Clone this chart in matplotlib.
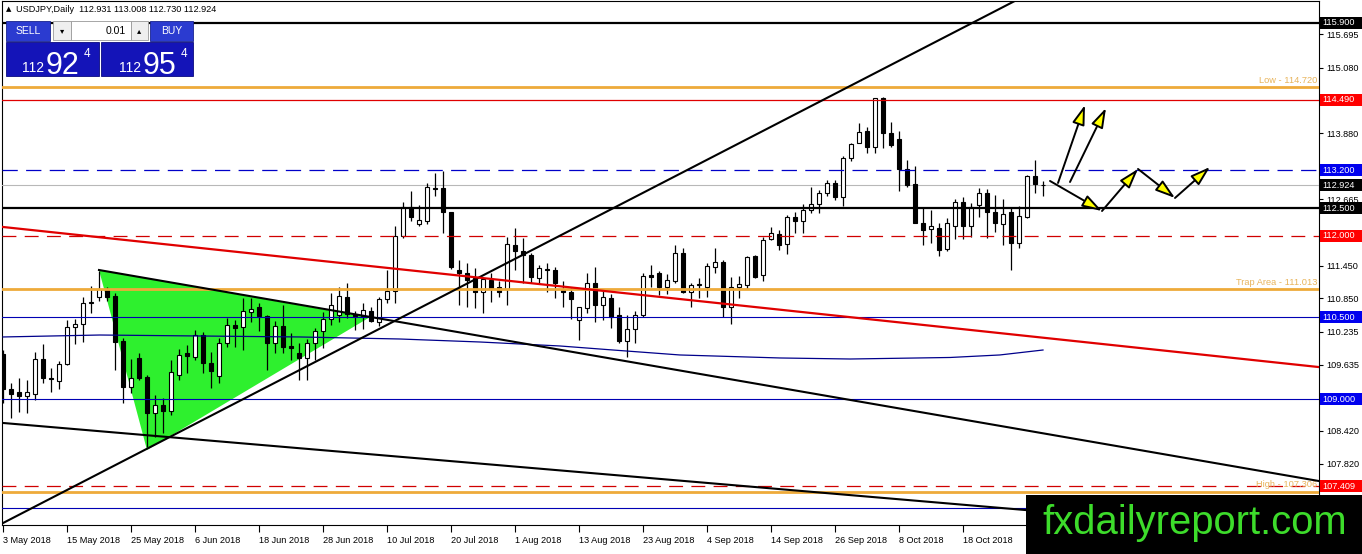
import matplotlib
matplotlib.use("Agg")
import matplotlib.pyplot as plt
import matplotlib.transforms as mtrans
from matplotlib.patches import Rectangle, Polygon
from matplotlib import font_manager
import numpy as np

plt.rcParams['font.family'] = ['Liberation Sans', 'DejaVu Sans']
plt.rcParams['lines.scale_dashes'] = False
_names = {f.name for f in font_manager.fontManager.ttflist}
NARROW = 'Liberation Sans Narrow' if 'Liberation Sans Narrow' in _names else 'Liberation Sans'

# ---------------- DATA ----------------
symbol = "USDJPY,Daily"
header_ohlc = "112.931 113.008 112.730 112.924"
sell_price = ("112", "92", "4")
buy_price = ("112", "95", "4")
lot = "0.01"

tick_pos = [0, 8, 16, 24, 32, 40, 48, 56, 64, 72, 80, 88, 96, 104, 112, 120]
tick_labels = ["3 May 2018", "15 May 2018", "25 May 2018", "6 Jun 2018", "18 Jun 2018",
               "28 Jun 2018", "10 Jul 2018", "20 Jul 2018", "1 Aug 2018", "13 Aug 2018",
               "23 Aug 2018", "4 Sep 2018", "14 Sep 2018", "26 Sep 2018", "8 Oct 2018",
               "18 Oct 2018"]
price_ticks = [115.695, 115.080, 114.480, 113.880, 113.265, 112.665, 112.050, 111.450,
               110.850, 110.235, 109.635, 109.020, 108.420, 107.820, 107.205]
# labels hidden behind price badges / watermark in the reference are left blank
price_tick_labels = ["115.695", "115.080", "", "113.880", "", "112.665", "", "111.450",
                     "110.850", "110.235", "109.635", "", "108.420", "107.820", ""]

opens = [109.83, 109.18, 109.13, 109.06, 109.09, 109.74, 109.39, 109.33, 109.65, 110.33,
         110.38, 110.77, 110.88, 111.02, 110.90, 110.07, 109.23, 109.76, 109.41, 108.75,
         108.90, 108.79, 109.44, 109.84, 109.78, 110.18, 109.67, 109.42, 110.03, 110.36,
         110.33, 110.60, 110.69, 110.53, 110.03, 110.34, 109.98, 109.84, 109.76, 110.03,
         110.25, 110.47, 110.55, 110.88, 110.57, 110.52, 110.62, 110.42, 110.84, 110.99,
         111.99, 112.52, 112.21, 112.26, 112.87, 112.87, 112.44, 111.37, 111.32, 111.22,
         110.97, 111.19, 111.06, 111.03, 111.83, 111.72, 111.65, 111.22, 111.39, 111.37,
         111.00, 110.97, 110.45, 110.67, 111.13, 110.73, 110.85, 110.55, 110.06, 110.28,
         110.55, 111.28, 111.31, 111.06, 111.17, 111.68, 110.97, 111.10, 111.05, 111.43,
         111.52, 110.70, 111.05, 111.10, 111.63, 111.28, 111.93, 112.03, 111.85, 112.35,
         112.26, 112.47, 112.58, 112.78, 112.97, 112.70, 113.42, 113.70, 113.91, 113.63,
         114.52, 113.89, 113.78, 113.22, 112.94, 112.24, 112.12, 112.14, 111.75, 112.17,
         112.62, 112.17, 112.57, 112.79, 112.43, 112.22, 112.43, 111.86, 112.35, 113.10,
         112.931]
highs = [109.90, 109.30, 109.39, 109.35, 109.87, 110.01, 109.57, 109.70, 110.45, 110.47,
         110.88, 111.08, 111.35, 111.05, 110.95, 110.12, 109.74, 109.85, 109.45, 109.08,
         109.02, 109.72, 109.92, 110.00, 110.27, 110.24, 109.87, 110.12, 110.49, 110.45,
         110.86, 110.86, 110.76, 110.55, 110.44, 110.73, 110.21, 110.03, 110.10, 110.30,
         110.60, 110.95, 111.06, 111.14, 110.62, 110.76, 110.69, 110.88, 111.37, 112.18,
         112.62, 112.81, 112.56, 112.96, 113.14, 113.18, 112.44, 111.55, 111.50, 111.40,
         111.25, 111.31, 111.16, 111.97, 112.14, 111.95, 111.69, 111.46, 111.49, 111.43,
         111.16, 111.06, 110.70, 111.31, 111.42, 111.00, 110.93, 110.70, 110.55, 110.61,
         111.31, 111.46, 111.36, 111.30, 111.83, 111.77, 111.13, 111.22, 111.49, 111.77,
         111.55, 111.25, 111.26, 111.63, 111.64, 111.97, 112.15, 112.10, 112.38, 112.44,
         112.58, 112.89, 112.83, 113.02, 113.02, 113.46, 113.70, 114.06, 114.00, 114.52,
         114.54, 114.09, 113.91, 113.39, 113.28, 112.53, 112.47, 112.23, 112.32, 112.68,
         112.71, 112.60, 112.87, 112.85, 112.74, 112.67, 112.51, 112.54, 113.11, 113.39,
         113.008]
lows = [108.93, 108.66, 108.77, 108.75, 108.98, 109.30, 109.13, 109.18, 109.63, 110.01,
        110.05, 110.58, 110.80, 110.80, 109.54, 108.93, 109.11, 109.35, 108.13, 108.31,
        108.38, 108.71, 109.35, 109.48, 109.72, 109.48, 109.21, 109.30, 109.96, 109.95,
        109.90, 110.42, 110.25, 109.54, 109.85, 109.85, 109.72, 109.35, 109.35, 109.72,
        109.94, 110.36, 110.42, 110.49, 110.27, 110.29, 110.42, 110.34, 110.77, 110.76,
        111.95, 112.26, 112.18, 112.21, 112.73, 112.04, 111.39, 110.73, 110.70, 110.67,
        110.58, 110.79, 110.88, 110.73, 111.37, 111.13, 111.13, 111.13, 110.97, 110.85,
        110.70, 110.48, 110.09, 110.58, 110.42, 110.45, 110.30, 110.03, 109.78, 110.03,
        110.51, 111.06, 110.91, 110.93, 111.13, 110.94, 110.70, 110.85, 110.88, 111.31,
        110.51, 110.38, 110.85, 111.03, 111.22, 111.16, 111.92, 111.73, 111.66, 112.04,
        112.04, 112.42, 112.41, 112.72, 112.65, 112.54, 113.37, 113.69, 113.52, 113.51,
        113.61, 113.63, 112.81, 112.89, 112.24, 111.82, 111.87, 111.62, 111.71, 111.93,
        111.93, 111.98, 112.35, 111.95, 112.07, 111.83, 111.37, 111.77, 112.32, 112.79,
        112.730]
closes = [109.19, 109.09, 109.06, 109.13, 109.74, 109.39, 109.37, 109.65, 110.33, 110.38,
          110.77, 110.78, 111.02, 110.88, 110.05, 109.23, 109.39, 109.39, 108.75, 108.90,
          108.79, 109.50, 109.81, 109.80, 110.18, 109.67, 109.52, 110.03, 110.36, 110.31,
          110.62, 110.66, 110.53, 110.03, 110.34, 109.96, 109.94, 109.76, 110.03, 110.25,
          110.47, 110.73, 110.90, 110.57, 110.52, 110.64, 110.44, 110.84, 110.98, 111.99,
          112.52, 112.35, 112.29, 112.90, 112.86, 112.44, 111.43, 111.32, 111.19, 110.97,
          111.20, 111.03, 110.97, 111.84, 111.71, 111.65, 111.25, 111.40, 111.37, 111.13,
          110.97, 110.83, 110.69, 111.13, 110.73, 110.88, 110.50, 110.06, 110.28, 110.55,
          111.26, 111.25, 111.06, 111.19, 111.68, 110.97, 111.10, 111.11, 111.44, 111.52,
          110.70, 111.06, 111.11, 111.61, 111.25, 111.92, 112.05, 111.82, 112.35, 112.26,
          112.47, 112.58, 112.78, 112.97, 112.70, 113.42, 113.68, 113.90, 113.63, 114.52,
          113.89, 113.67, 113.22, 112.93, 112.24, 112.10, 112.17, 111.74, 112.24, 112.62,
          112.17, 112.53, 112.79, 112.43, 112.24, 112.39, 111.86, 112.36, 113.10, 112.94,
          112.924]

ma_x = [0, 12.1, 24.6, 37.1, 49.6, 59.6, 69.6, 76.25, 84.6, 97.1, 105.9, 118.4, 124.6, 130]
ma_y = [110.142, 110.178, 110.160, 110.142, 110.105, 110.050, 109.977, 109.903, 109.812,
        109.757, 109.738, 109.766, 109.812, 109.903]

levels_black = [115.900, 112.500]
levels_red = [114.490]
levels_red_dashed = [112.000, 107.409]
levels_blue_dashed = [113.200]
levels_blue = [110.500, 109.000, 107.000]
levels_orange = [114.720, 111.013, 107.306]
orange_labels = ["Low - 114.720", "Trap Area - 111.013", "High - 107.306"]
last_price = 112.924

badges_black = [115.900, 112.924, 112.500]
badges_red = [114.490, 112.000, 107.409]
badges_blue = [113.200, 110.500, 109.000]

up_trend_x, up_trend_y = [0, 130], [106.73, 116.57]
down_trend_x, down_trend_y = [12, 164.5], [111.37, 107.50]
low_trend_x, low_trend_y = [0, 164.5], [108.565, 106.51]
red_trend_x, red_trend_y = [0, 164.5], [112.159, 109.59]
triangle_x, triangle_y = [12, 18, 45.8], [111.37, 108.07, 110.50]

zigzag_x = [130.875, 137.375, 141.875, 146.5, 150.875]
zigzag_y = [113.003, 112.452, 113.223, 112.691, 113.259]
up_arrows = [((131.875, 112.966), (135.25, 114.396)),
             ((133.375, 112.984), (137.875, 114.341))]

watermark = "fxdailyreport.com"

# ---------------- FIGURE ----------------
W, H = 1362, 554
fig = plt.figure(figsize=(W / 100, H / 100), dpi=100)
fig.patch.set_facecolor('white')
ax = fig.add_axes([2 / W, 1 - 525 / H, (1319 - 2) / W, (525 - 1) / H])
ax.set_xlim(-0.125, 164.5)
ax.set_ylim(106.694, 116.303)
ax.set_facecolor('white')
for s in ax.spines.values():
    s.set_color('black')
    s.set_linewidth(0.8)

# triangle (background)
ax.add_patch(Polygon(list(zip(triangle_x, triangle_y)), closed=True, fc='#2ef02e',
                     ec='none', zorder=1))

# candles
x = np.arange(len(opens))
o, h, l, c = map(np.array, (opens, highs, lows, closes))
ax.vlines(x, l, h, color='black', lw=0.9, zorder=4)
bull = c >= o
bot = np.minimum(o, c)
hgt = np.maximum(np.abs(c - o), 0.003)
ax.bar(x[bull], hgt[bull], bottom=bot[bull], width=0.56, color='white',
       edgecolor='black', linewidth=0.8, zorder=5)
ax.bar(x[~bull], hgt[~bull], bottom=bot[~bull], width=0.56, color='black',
       edgecolor='black', linewidth=0.8, zorder=5)

# moving average
ax.plot(ma_x, ma_y, color='#00008b', lw=0.9, zorder=6)

# horizontal levels
for p in levels_black:
    ax.axhline(p, color='black', lw=1.6, zorder=6)
for p in levels_red:
    ax.axhline(p, color='#e00000', lw=0.9, zorder=6)
for p in levels_red_dashed:
    ax.axhline(p, color='#d00000', lw=0.9, ls=(0, (10, 6)), zorder=6)
for p in levels_blue_dashed:
    ax.axhline(p, color='#0000c8', lw=0.9, ls=(0, (11, 6)), zorder=6)
for p in levels_blue:
    ax.axhline(p, color='#0000b4', lw=0.8, zorder=6)
for p in levels_orange:
    ax.axhline(p, color='#eeaa3a', lw=2.0, zorder=6)
ax.axhline(last_price, color='#b8b8b8', lw=0.8, zorder=3)

blend = mtrans.blended_transform_factory(ax.transAxes, ax.transData)
for p, t in zip(levels_orange, orange_labels):
    ax.text(0.9985, p + 0.05, t, transform=blend, ha='right', va='bottom',
            fontsize=6.7, color='#e8b45c', zorder=7)

# trend lines
ax.plot(up_trend_x, up_trend_y, color='black', lw=1.5, zorder=7)
ax.plot(down_trend_x, down_trend_y, color='black', lw=1.5, zorder=7)
ax.plot(low_trend_x, low_trend_y, color='black', lw=1.5, zorder=7)
ax.plot(red_trend_x, red_trend_y, color='#e00000', lw=1.6, zorder=7)

# arrows
aprops = dict(arrowstyle='-|>,head_length=1.2,head_width=0.38', mutation_scale=10,
              fc='#ffff00', ec='black', lw=1.4, shrinkA=0, shrinkB=0)
for i in range(len(zigzag_x) - 1):
    ax.annotate('', xy=(zigzag_x[i + 1], zigzag_y[i + 1]),
                xytext=(zigzag_x[i], zigzag_y[i]), arrowprops=aprops, zorder=8)
for (s, e) in up_arrows:
    ax.annotate('', xy=e, xytext=s, arrowprops=aprops, zorder=8)

# axes ticks
ax.yaxis.tick_right()
ax.set_yticks(price_ticks)
ax.set_yticklabels(price_tick_labels)
ax.tick_params(axis='y', length=3, width=0.8, pad=2, labelsize=6.6, colors='black')
ax.set_xticks(tick_pos)
ax.set_xticklabels(tick_labels)
for lbl in ax.get_xticklabels():
    lbl.set_ha('left')
ax.tick_params(axis='x', length=5, width=0.8, pad=3, labelsize=6.6, colors='black')

# price badges
bfig = mtrans.blended_transform_factory(fig.transFigure, ax.transData)
bh = 12 / 54.53
for plist, col in ((badges_black, 'black'), (badges_red, '#ff0000'), (badges_blue, '#0000ee')):
    for p in plist:
        r = Rectangle((1320 / W, p - bh / 2), 42 / W, bh, transform=bfig, fc=col,
                      ec='none', clip_on=False, zorder=10)
        ax.add_patch(r)
        ax.text(1322.5 / W, p, f"{p:.3f}", transform=bfig, ha='left', va='center',
                fontsize=6.6, color='white', clip_on=False, zorder=11)

# ---------------- PANEL ----------------
def frect(x0, y0, x1, y1, **kw):
    r = Rectangle((x0 / W, 1 - y1 / H), (x1 - x0) / W, (y1 - y0) / H,
                  transform=fig.transFigure, **kw)
    fig.add_artist(r)
    return r

def ftext(xp, yp, s, **kw):
    fig.text(xp / W, 1 - yp / H, s, **kw)

ftext(6, 9, "\u25b2", fontsize=5, va='center', ha='left', family=['DejaVu Sans'])
ftext(16, 9, f"{symbol}  {header_ohlc}", fontsize=6.6, va='center', ha='left')

frect(6, 21, 50, 41, fc='#2b3bd0', ec='#1a2490', lw=0.6)
ftext(28, 31, "SELL", fontsize=7.5, color='white', ha='center', va='center')
frect(53, 21, 71, 40, fc='#efefef', ec='#9a9a9a', lw=0.6)
ftext(62, 30.5, "\u25be", fontsize=6, ha='center', va='center', family=['DejaVu Sans'])
frect(71, 21, 131, 40, fc='white', ec='#9a9a9a', lw=0.6)
ftext(126, 30.5, lot, fontsize=7.5, ha='right', va='center')
frect(131, 21, 148, 40, fc='#efefef', ec='#9a9a9a', lw=0.6)
ftext(139.5, 30.5, "\u25b4", fontsize=6, ha='center', va='center', family=['DejaVu Sans'])
frect(150, 21, 193, 41, fc='#2b3bd0', ec='#1a2490', lw=0.6)
ftext(171.5, 31, "BUY", fontsize=7.5, color='white', ha='center', va='center')

frect(6, 42, 99, 76, fc='#1414b8', ec='#0a0a80', lw=0.6)
frect(101, 42, 193, 76, fc='#1414b8', ec='#0a0a80', lw=0.6)
for (small, big, sup), (xs, xb, xp) in ((sell_price, (44, 46, 84)), (buy_price, (141, 143, 181))):
    ftext(xs, 72, small, fontsize=10, color='white', ha='right', va='baseline', family=[NARROW])
    ftext(xb, 73.5, big, fontsize=22, color='white', ha='left', va='baseline', family=[NARROW])
    ftext(xp, 57, sup, fontsize=8.5, color='white', ha='left', va='baseline', family=[NARROW])

# watermark box
frect(1026, 495, 1362, 554, fc='black', ec='none', zorder=20)
fig.text(1042 / W, 1 - 534 / H, watermark, fontsize=28.8, color='#3ddc2b',
         ha='left', va='baseline', zorder=21)

fig.savefig("out.png", dpi=100, facecolor='white')
